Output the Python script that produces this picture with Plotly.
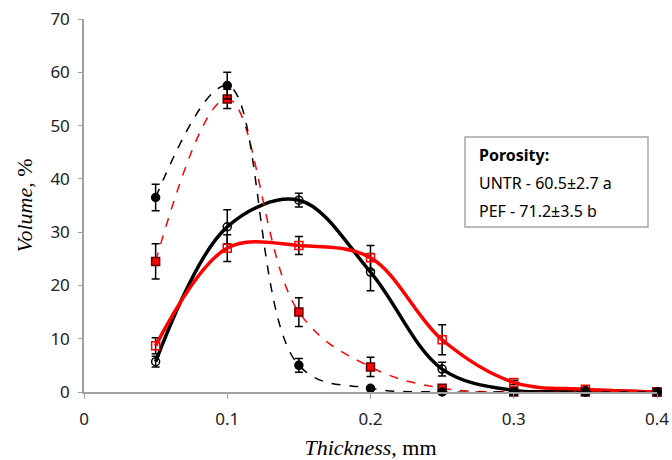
import plotly.graph_objects as go

thickness = [0.05, 0.10, 0.15, 0.20, 0.25, 0.30, 0.35, 0.40]

untr_dash = [36.5, 57.5, 5.0, 0.7, 0.0, 0.0, 0.0, 0.0]
untr_dash_err = [2.5, 2.5, 1.3, 0.3, 0.2, 0.2, 0.1, 0.1]

pef_dash = [24.5, 55.0, 15.0, 4.7, 0.7, 0.0, 0.0, 0.0]
pef_dash_err = [3.3, 1.8, 2.7, 1.8, 0.5, 0.2, 0.1, 0.1]

untr_solid = [5.7, 31.0, 36.0, 22.5, 4.3, 0.3, 0.3, 0.0]
untr_solid_err = [1.0, 3.2, 1.3, 3.5, 1.3, 0.3, 0.3, 0.2]

pef_solid = [8.7, 27.0, 27.5, 25.2, 9.8, 1.8, 0.5, 0.0]
pef_solid_err = [1.5, 2.5, 1.7, 2.3, 2.8, 0.4, 0.3, 0.2]

x_ticks = [0, 0.1, 0.2, 0.3, 0.4]
y_ticks = [0, 10, 20, 30, 40, 50, 60, 70]

box_lines = ["<b>Porosity:</b>", "UNTR - 60.5±2.7 a", "PEF - 71.2±3.5 b"]

fig = go.Figure()

def add(y, err, color, width, dash, symbol, mcolor, mline, smooth):
    fig.add_trace(go.Scatter(
        x=thickness, y=y, mode="lines+markers",
        line=dict(color=color, width=width, dash=dash, shape="spline", smoothing=smooth),
        marker=dict(symbol=symbol, size=8, color=mcolor, line=dict(color=mline, width=1.5)),
        error_y=dict(type="data", array=err, visible=True, color="black", thickness=1.5, width=4),
        cliponaxis=False, showlegend=False))

add(untr_solid, untr_solid_err, "black", 3.5, "solid", "circle-open", "black", "black", 1.0)
add(pef_solid, pef_solid_err, "#ff0000", 3.5, "solid", "square-open", "#ff0000", "#ff0000", 1.0)
add(pef_dash, pef_dash_err, "#ff0000", 1.5, "dash", "square", "#ff0000", "#600000", 1.1)
add(untr_dash, untr_dash_err, "black", 1.5, "dash", "circle", "black", "black", 1.1)

# box
fig.add_shape(type="rect", xref="paper", yref="paper",
              x0=(465 - 84) / 573, x1=(648 - 84) / 573,
              y0=(392 - 227) / 373, y1=(392 - 137) / 373,
              line=dict(color="#a6a6a6", width=1.5), fillcolor="white", layer="above")
for i, t in enumerate(box_lines):
    fig.add_annotation(xref="paper", yref="paper", x=(477 - 84) / 573,
                       y=(392 - (155 + 28 * i)) / 373, xanchor="left", yanchor="middle",
                       text=t, showarrow=False,
                       font=dict(family="Noto Sans, sans-serif", size=16, color="black"))

fig.update_layout(
    width=672, height=460,
    margin=dict(l=84, r=15, t=19, b=68, autoexpand=False),
    paper_bgcolor="white", plot_bgcolor="white",
    font=dict(family="Noto Sans, sans-serif", size=17, color="#222"),
    xaxis=dict(range=[0, 0.4], tickvals=x_ticks, ticktext=[str(v) for v in x_ticks],
               showgrid=False, zeroline=False, showline=True, linecolor="#a0a0a0", linewidth=1.5,
               ticks="outside", ticklen=5, tickcolor="#a0a0a0", automargin=False,
               ticklabelstandoff=6,
               title=dict(text="<i>Thickness</i>, mm", font=dict(family="Liberation Serif, serif", size=22, color="black"), standoff=10)),
    yaxis=dict(range=[0, 70], tickvals=y_ticks,
               showgrid=False, zeroline=False, showline=True, linecolor="#a0a0a0", linewidth=1.5,
               ticks="outside", ticklen=4, tickcolor="#a0a0a0", automargin=False,
               ticklabelstandoff=5,
               title=dict(text="<i>Volume</i>, %", font=dict(family="Liberation Serif, serif", size=22, color="black"), standoff=12)),
)

fig.write_html("out.html", config={"displayModeBar": False},
               post_script="document.body.style.margin='0';")
